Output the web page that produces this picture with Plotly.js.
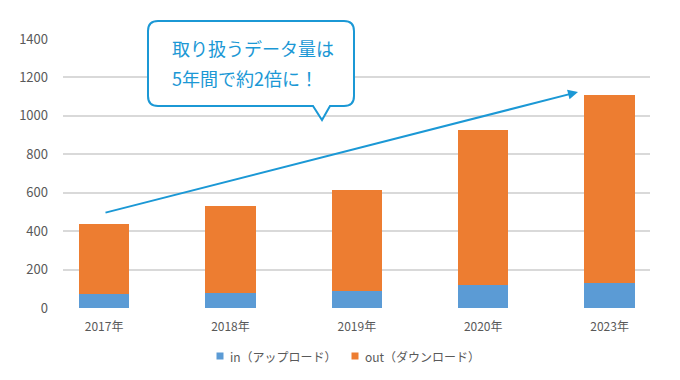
<!DOCTYPE html>
<html>
<head>
<meta charset="utf-8">
<script src="https://cdn.plot.ly/plotly-3.0.1.min.js"></script>
<style>html,body{margin:0;padding:0;background:#fff;}#chart{width:680px;height:380px;}</style>
</head>
<body>
<div id="chart"></div>
<script>
const categories = ["2017年", "2018年", "2019年", "2020年", "2023年"];
const inValues = [75, 80, 88, 118, 130];
const outValues = [363, 453, 527, 808, 976];
const seriesNames = ["in（アップロード）", "out（ダウンロード）"];
const seriesColors = ["#5B9BD5", "#ED7D31"];
const yTicks = [0, 200, 400, 600, 800, 1000, 1200, 1400];
const calloutLines = ["取り扱うデータ量は", "5年間で約2倍に！"];

const W = 680, H = 380;
const M = {l: 63, r: 30, t: 39, b: 72};
const PW = W - M.l - M.r, PH = H - M.t - M.b;
const px = x => (x - M.l) / PW;
const py = y => (H - M.b - y) / PH;

const font = '"Noto Sans CJK JP", "Noto Sans", sans-serif';
const blue = '#1B98D5';
const gray = '#595959';

function calloutPath() {
  const L = 148, R = 354, T = 21, B = 106, r = 10;
  const t1 = 313, tip = 322, t2 = 330, tipY = 120;
  const p = (x, y) => px(x).toFixed(5) + ',' + py(y).toFixed(5);
  return 'M' + p(L + r, T) + ' L' + p(R - r, T) + ' Q' + p(R, T) + ' ' + p(R, T + r) +
    ' L' + p(R, B - r) + ' Q' + p(R, B) + ' ' + p(R - r, B) +
    ' L' + p(t2, B) + ' L' + p(tip, tipY) + ' L' + p(t1, B) +
    ' L' + p(L + r, B) + ' Q' + p(L, B) + ' ' + p(L, B - r) +
    ' L' + p(L, T + r) + ' Q' + p(L, T) + ' ' + p(L + r, T) + ' Z';
}

const traces = [
  {type: 'bar', x: categories, y: inValues, name: seriesNames[0], marker: {color: seriesColors[0]}, width: 0.4, showlegend: false},
  {type: 'bar', x: categories, y: outValues, name: seriesNames[1], marker: {color: seriesColors[1]}, width: 0.4, showlegend: false}
];

// custom legend (small square + text), positioned in pixels
const legendItems = [{sx: 220, tx: 228}, {sx: 355, tx: 363}];
const legendY = 356, sq = 3.5;
const legendShapes = legendItems.map((it, i) => ({
  type: 'rect', xref: 'paper', yref: 'paper',
  x0: px(it.sx - sq), x1: px(it.sx + sq), y0: py(legendY + sq), y1: py(legendY - sq),
  line: {width: 0}, fillcolor: seriesColors[i]
}));
const legendTexts = legendItems.map((it, i) => ({
  xref: 'paper', yref: 'paper', x: px(it.tx), y: py(legendY), xanchor: 'left', yanchor: 'middle',
  showarrow: false, text: seriesNames[i], font: {size: 12, color: gray, family: font}
}));

const layout = {
  width: W, height: H,
  margin: M,
  barmode: 'stack',
  paper_bgcolor: '#fff', plot_bgcolor: '#fff',
  font: {family: font, color: gray, size: 12},
  showlegend: false,
  xaxis: {type: 'category', range: [-0.325, 4.32], showgrid: false, zeroline: false, showline: false,
          ticks: '', tickfont: {size: 12, color: gray}, ticklabelstandoff: 10, fixedrange: true},
  yaxis: {range: [0, 1400], tickvals: yTicks, showgrid: true, gridcolor: '#D9D9D9', gridwidth: 2,
          zeroline: false, showline: false, ticks: '', tickfont: {size: 13, color: gray},
          ticklabelstandoff: 14, fixedrange: true},
  shapes: [
    {type: 'path', xref: 'paper', yref: 'paper', path: calloutPath(), line: {color: blue, width: 2}, fillcolor: '#ffffff', layer: 'above'}
  ].concat(legendShapes),
  annotations: [
    {xref: 'paper', yref: 'paper', x: px(578), y: py(92), ax: 104 - 578, ay: 213 - 92, axref: 'pixel', ayref: 'pixel',
     text: '', showarrow: true, arrowhead: 2, arrowsize: 1, arrowwidth: 2, arrowcolor: blue, standoff: 0},
    {xref: 'paper', yref: 'paper', x: px(170), y: py(48), xanchor: 'left', yanchor: 'middle', showarrow: false,
     text: calloutLines[0], font: {size: 18, color: blue, family: font}},
    {xref: 'paper', yref: 'paper', x: px(170), y: py(78), xanchor: 'left', yanchor: 'middle', showarrow: false,
     text: calloutLines[1], font: {size: 18, color: blue, family: font}}
  ].concat(legendTexts)
};

Plotly.newPlot('chart', traces, layout, {displayModeBar: false, staticPlot: true});
</script>
</body>
</html>
